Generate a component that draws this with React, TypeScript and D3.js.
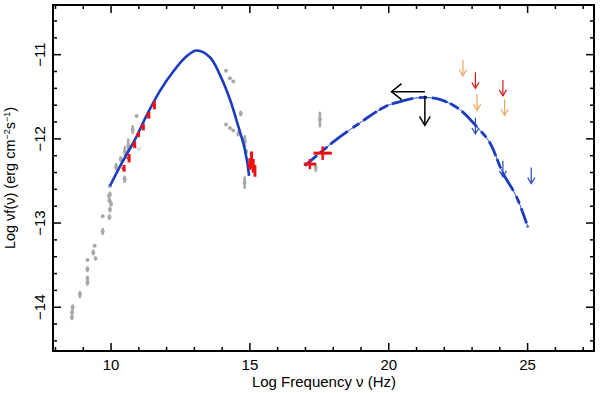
import * as d3 from 'd3'

// synchrotron model curve (log nu, log nuFnu)
const syncCurve: [number, number][] = [
  [9.96, -12.56], [10.4, -12.28], [10.86, -12.01], [11.3, -11.71], [11.76, -11.43],
  [12.24, -11.2], [12.72, -11.02], [13.08, -10.95], [13.56, -11.03], [13.92, -11.24],
  [14.28, -11.53], [14.58, -11.85], [14.82, -12.13], [14.97, -12.44],
]

// inverse Compton model curve
const icCurve: [number, number][] = [
  [16.98, -12.32], [17.99, -12.04], [18.96, -11.81], [19.92, -11.61], [20.5, -11.55],
  [21.12, -11.51], [21.83, -11.53], [22.55, -11.65], [23.15, -11.85], [23.63, -12.04],
  [24.1, -12.4], [24.59, -12.68], [25.01, -13.05],
]

// archival grey points: [x, y, half error]
const greyPts: [number, number, number][] = [
  [8.59, -14.12, 0.02], [8.6, -14.06, 0.02], [8.62, -14.0, 0.02], [8.88, -13.85, 0.03],
  [9.15, -13.71, 0.02], [9.15, -13.66, 0.02], [9.15, -13.55, 0.02], [9.15, -13.44, 0],
  [9.44, -13.42, 0.01], [9.36, -13.35, 0.02], [9.41, -13.27, 0], [9.7, -13.1, 0.03],
  [9.7, -12.92, 0], [9.94, -12.93, 0.02], [9.96, -12.84, 0.02], [10.0, -12.77, 0.02],
  [9.94, -12.73, 0.02], [9.96, -12.66, 0.02], [9.92, -12.68, 0], [10.49, -12.48, 0.03],
  [9.96, -12.56, 0], [10.18, -12.33, 0.03], [10.35, -12.24, 0.02], [10.5, -12.15, 0.05],
  [10.62, -12.08, 0.07], [10.78, -11.89, 0.04], [10.92, -11.73, 0],
  [14.14, -11.19, 0], [14.28, -11.28, 0], [14.4, -11.32, 0], [14.67, -11.7, 0.02],
  [14.14, -11.83, 0], [14.28, -11.87, 0], [14.4, -11.9, 0], [14.58, -11.94, 0.02],
  [14.76, -12.01, 0.02], [14.82, -12.03, 0.06], [14.86, -12.15, 0.02], [14.81, -12.52, 0.06],
  [17.52, -11.77, 0.08], [17.37, -12.34, 0.04],
]

// new measurements (red): [x, y, half y error, half x error]
const redPts: [number, number, number, number][] = [
  [10.47, -12.35, 0.04, 0], [10.65, -12.23, 0.05, 0], [10.85, -12.07, 0.04, 0],
  [10.99, -11.95, 0.03, 0], [11.16, -11.86, 0.04, 0], [11.36, -11.72, 0.04, 0],
  [11.56, -11.6, 0.05, 0],
  [15.0, -12.3, 0.07, 0], [15.06, -12.25, 0.1, 0], [15.12, -12.32, 0.08, 0], [15.18, -12.38, 0.07, 0],
  [17.16, -12.3, 0.06, 0.22], [17.62, -12.17, 0.08, 0.33],
]

// upper limits (arrows pointing down): [x, y, colour]
const limits: [number, number, string][] = [
  [22.67, -11.06, '#E9A55A'], [23.12, -11.21, '#E0141C'], [23.18, -11.47, '#E9A55A'],
  [23.12, -11.75, '#2248C0'], [24.11, -11.3, '#E0141C'], [24.17, -11.53, '#E9A55A'],
  [24.11, -12.26, '#2248C0'], [25.13, -12.34, '#2248C0'],
]

// black limit (x and y)
const blackLimit = { x: 21.3, y: -11.44, xLeft: 20.1, yLow: -11.84 }

const xTicks = [10, 15, 20, 25]
const yTicks = [-11, -12, -13, -14]

const W = 600
const H = 393
const M = { left: 53, right: 6, top: 5, bottom: 42 }
const FONT = '"Liberation Sans", Arial, Helvetica, sans-serif'

export default function App() {
  const x = d3.scaleLinear().domain([7.91, 27.39]).range([M.left, W - M.right])
  const y = d3.scaleLinear().domain([-14.52, -10.41]).range([H - M.bottom, M.top])

  const line = d3.line<[number, number]>()
    .x(d => x(d[0])).y(d => y(d[1]))
    .curve(d3.curveCatmullRom.alpha(0.5))

  const x0 = M.left, x1 = W - M.right, y0 = M.top, y1 = H - M.bottom
  const xMinor = d3.range(8, 28, 1)
  const yMinor = d3.range(-14.4, -10.4, 0.2).map(v => +v.toFixed(1))

  const arrowHead = (cx: number, cy: number, s: number) =>
    `M${cx - s * 0.6},${cy - s} L${cx},${cy} L${cx + s * 0.6},${cy - s}`

  return (
    <svg width={W} height={H} style={{ position: 'absolute', left: 0, top: 0, background: '#fff' }}
      fontFamily={FONT}>
      {/* ticks, inward on all four sides */}
      {xMinor.map(v => (
        <g key={'xm' + v} stroke="#000" strokeWidth={1.5}>
          <line x1={x(v)} x2={x(v)} y1={y1} y2={y1 - (v % 5 === 0 ? 8 : 4)} />
          <line x1={x(v)} x2={x(v)} y1={y0} y2={y0 + (v % 5 === 0 ? 8 : 4)} />
        </g>
      ))}
      {yMinor.map(v => {
        const major = Math.abs(v - Math.round(v)) < 1e-6
        return (
          <g key={'ym' + v} stroke="#000" strokeWidth={1.5}>
            <line x1={x0} x2={x0 + (major ? 8 : 4)} y1={y(v)} y2={y(v)} />
            <line x1={x1} x2={x1 - (major ? 8 : 4)} y1={y(v)} y2={y(v)} />
          </g>
        )
      })}

      {/* tick labels */}
      {xTicks.map(v => (
        <text key={'xt' + v} x={x(v)} y={y1 + 19} textAnchor="middle" fontSize={15}>{v}</text>
      ))}
      {yTicks.map(v => (
        <text key={'yt' + v} transform={`translate(${x0 - 8},${y(v)}) rotate(-90)`}
          textAnchor="middle" fontSize={15}>{'\u2212' + Math.abs(v)}</text>
      ))}

      {/* axis titles */}
      <text x={324} y={H - 6} textAnchor="middle" fontSize={15}>Log Frequency ν (Hz)</text>
      <g transform={`translate(15,178) rotate(-90)`}>
        <text textAnchor="middle" fontSize={14.5}>
          Log νf(ν) (erg cm<tspan dy={-5} fontSize={9}>−2</tspan><tspan dy={5}>s</tspan>
          <tspan dy={-5} fontSize={9}>−1</tspan><tspan dy={5}>)</tspan>
        </text>
      </g>

      {/* grey archival data */}
      {greyPts.map(([px, py, e], i) => (
        <g key={'g' + i} fill="#A9A9A9" stroke="#A9A9A9">
          {e > 0 && <line x1={x(px)} x2={x(px)} y1={y(py - e)} y2={y(py + e)} strokeWidth={2.6} strokeLinecap="round" />}
          <circle cx={x(px)} cy={y(py)} r={2} stroke="none" />
        </g>
      ))}

      {/* faint small limit near 11 */}
      <path d={arrowHead(x(11.0), y(-12.14), 4)} fill="none" stroke="#A8C0DC" strokeWidth={1} />

      {/* model curves */}
      <path d={line(syncCurve) ?? ''} fill="none" stroke="#1B3CC0" strokeWidth={2.6} />
      <path d={line(icCurve) ?? ''} fill="none" stroke="#1B3CC0" strokeWidth={0.9} />
      <path d={line(icCurve) ?? ''} fill="none" stroke="#1B3CC0" strokeWidth={2.8}
        strokeDasharray="16 3 10 4 22 6 8 5" />

      {/* red measurements */}
      {redPts.map(([px, py, ey, ex], i) => (
        <g key={'r' + i} stroke="#EE1111">
          <line x1={x(px)} x2={x(px)} y1={y(py - ey)} y2={y(py + ey)} strokeWidth={ex > 0 ? 2.5 : 3} />
          {ex > 0
            ? <line x1={x(px - ex)} x2={x(px + ex)} y1={y(py)} y2={y(py)} strokeWidth={3} />
            : <line x1={x(px) - 2.5} x2={x(px) + 1} y1={y(py)} y2={y(py)} strokeWidth={2} />}
        </g>
      ))}

      {/* upper limits */}
      {limits.map(([px, py, c], i) => {
        const cx = x(px), top = y(py), bot = top + 16
        return (
          <g key={'l' + i} stroke={c} strokeWidth={1.2} fill="none">
            <line x1={cx} x2={cx} y1={top} y2={bot} />
            <path d={arrowHead(cx, bot, 6)} />
          </g>
        )
      })}

      {/* black limits */}
      <g stroke="#000" strokeWidth={1.5} fill="none">
        <line x1={x(blackLimit.x)} x2={x(blackLimit.xLeft)} y1={y(blackLimit.y)} y2={y(blackLimit.y)} />
        <path d={`M${x(blackLimit.xLeft) + 10},${y(blackLimit.y) - 8} L${x(blackLimit.xLeft)},${y(blackLimit.y)} L${x(blackLimit.xLeft) + 10},${y(blackLimit.y) + 8}`} />
        <line x1={x(blackLimit.x)} x2={x(blackLimit.x)} y1={y(blackLimit.y) + 4} y2={y(blackLimit.yLow)} />
        <path d={arrowHead(x(blackLimit.x), y(blackLimit.yLow), 9)} />
      </g>

      {/* frame */}
      <rect x={x0} y={y0} width={x1 - x0} height={y1 - y0} fill="none" stroke="#000" strokeWidth={2} />
    </svg>
  )
}
